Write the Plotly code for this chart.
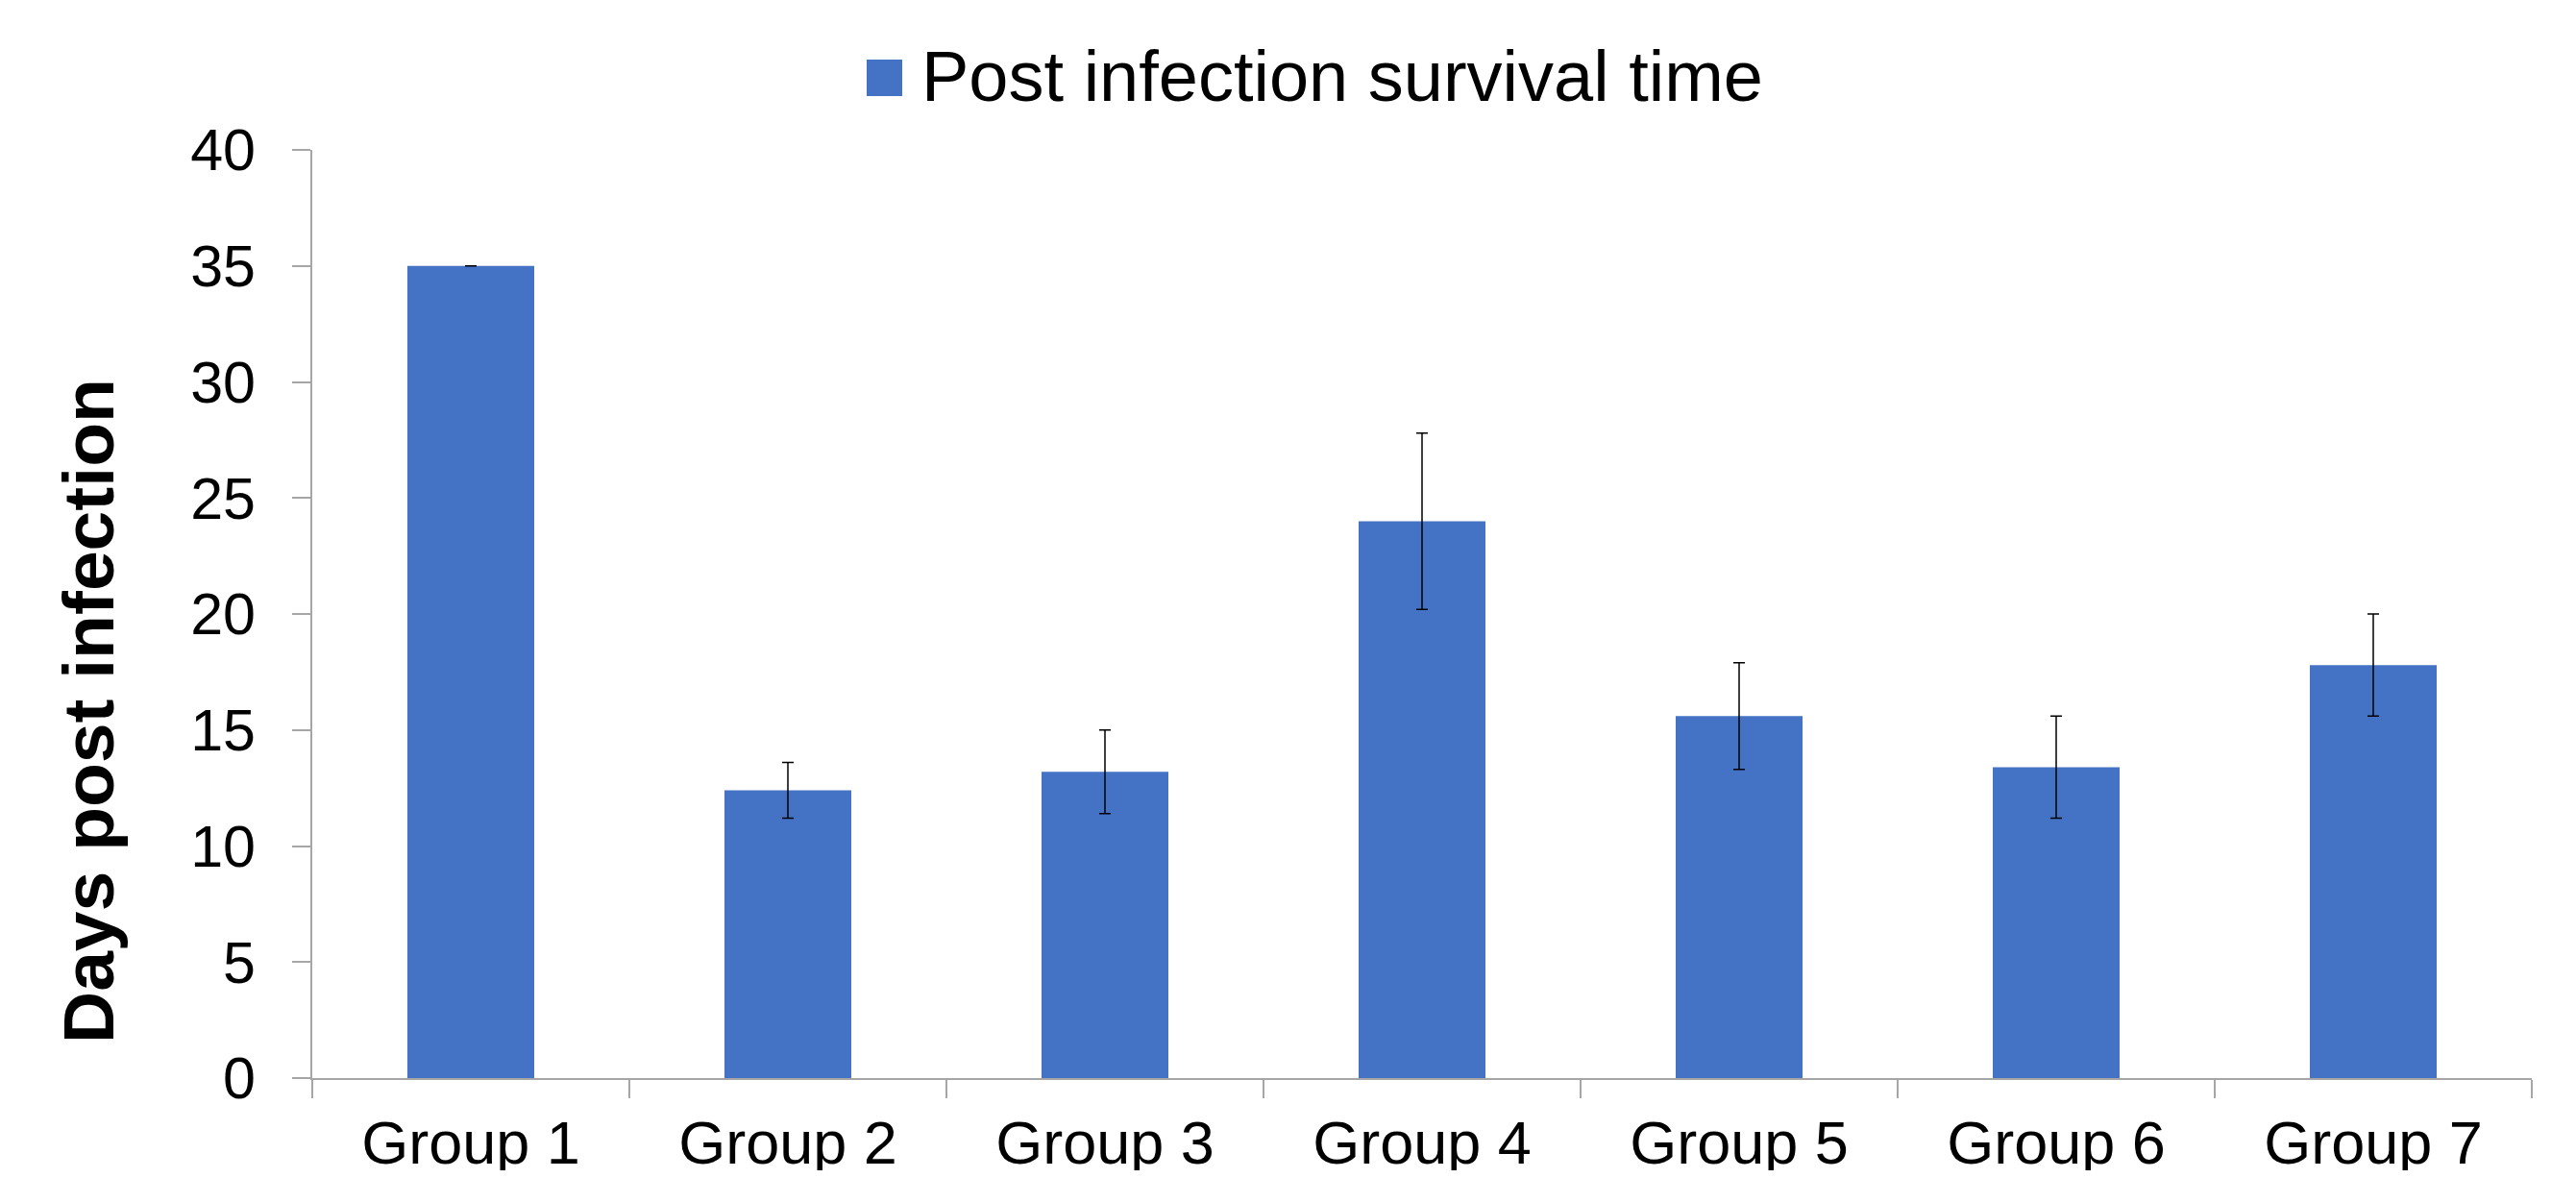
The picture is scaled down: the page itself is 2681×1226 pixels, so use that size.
import plotly.graph_objects as go

# ---- data ----
groups = ["Group 1", "Group 2", "Group 3", "Group 4", "Group 5", "Group 6", "Group 7"]
survival_days = [35.0, 12.4, 13.2, 24.0, 15.6, 13.4, 17.8]
survival_err = [0.0, 1.2, 1.8, 3.8, 2.3, 2.2, 2.2]
series_name = "Post infection survival time"
y_title = "Days post infection"
y_ticks = [0, 5, 10, 15, 20, 25, 30, 35, 40]

# ---- layout geometry (pixels, page coordinates; page body has an 8px margin) ----
OFF = 8
W, H = 2681 - 2 * OFF, 1226 - 2 * OFF
PLOT_L, PLOT_R, PLOT_T, PLOT_B = 325, 2635, 156, 1122  # page coords of plot area
L = PLOT_L - OFF
T = PLOT_T - OFF
R = W - (PLOT_R - OFF)
B = H - (PLOT_B - OFF)
PW, PH = PLOT_R - PLOT_L, PLOT_B - PLOT_T

def px_x(p):
    return (p - PLOT_L) / PW

def px_y(p):
    return (PLOT_B - p) / PH

FONT = "Liberation Sans, Arial, sans-serif"
BLUE = "#4472C4"
AXIS = "#A6A6A6"

fig = go.Figure()
fig.add_trace(go.Bar(
    x=groups,
    y=survival_days,
    name=series_name,
    marker=dict(color=BLUE, line=dict(width=0)),
    error_y=dict(type="data", array=survival_err, visible=True,
                 color="#000000", thickness=1.5, width=6),
    showlegend=False,
))

# legend drawn as a large square + text
fig.add_shape(type="rect", xref="paper", yref="paper",
              x0=px_x(902), x1=px_x(939), y0=px_y(100), y1=px_y(62),
              fillcolor=BLUE, line=dict(width=0))
fig.add_annotation(text=series_name, xref="paper", yref="paper",
                   x=px_x(957), y=px_y(79), xanchor="left", yanchor="middle",
                   showarrow=False, font=dict(family=FONT, size=74, color="#000000"))

# y-axis title
fig.add_annotation(text="<b>" + y_title + "</b>", xref="paper", yref="paper",
                   x=px_x(92), y=px_y(740), xanchor="center", yanchor="middle",
                   textangle=-90, showarrow=False,
                   font=dict(family=FONT, size=75, color="#000000"))

fig.update_layout(
    width=W, height=H, autosize=False,
    margin=dict(l=L, r=R, t=T, b=B, pad=0, autoexpand=False),
    paper_bgcolor="white", plot_bgcolor="white",
    bargap=0.6,
    font=dict(family=FONT, color="#000000"),
    showlegend=False,
)
fig.update_yaxes(
    range=[0, 40], tickvals=y_ticks, showgrid=False, zeroline=False,
    showline=True, linecolor=AXIS, linewidth=1.5,
    ticks="outside", ticklen=19, tickcolor=AXIS, tickwidth=1.5,
    tickfont=dict(family=FONT, size=61, color="#000000"),
    ticklabelstandoff=26, automargin=False,
)
fig.update_xaxes(
    type="category", showgrid=False, zeroline=False,
    showline=True, linecolor=AXIS, linewidth=1.5,
    ticks="outside", tickson="boundaries", ticklen=19, tickcolor=AXIS, tickwidth=1.5,
    tickfont=dict(family=FONT, size=63, color="#000000"),
    ticklabelstandoff=12, automargin=False,
)

fig.write_html("out.html")
